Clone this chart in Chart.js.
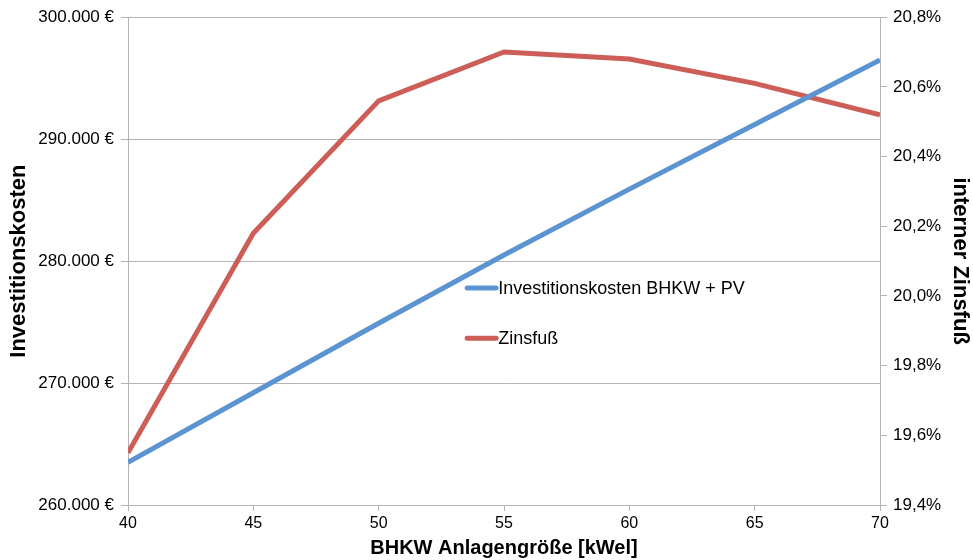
<!DOCTYPE html>
<html>
<head>
<meta charset="utf-8">
<script src="https://cdn.jsdelivr.net/npm/chart.js"></script>
<style>
  html, body { margin: 0; padding: 0; background: #fff; }
  #wrap { width: 973px; height: 560px; }
</style>
</head>
<body>
<div id="wrap"><canvas id="chart"></canvas></div>
<script>
// values
const anlagengroesse = [40, 45, 50, 55, 60, 65, 70];
const investitionskosten = [263500, 269200, 274900, 280500, 285900, 291200, 296500];
const zinsfuss = [19.55, 20.18, 20.56, 20.70, 20.68, 20.61, 20.52];

const BLUE = "#5b94d0";
const RED = "#cd5e57";
const GRID = "#b4b4b4";
const FONT = "'Liberation Sans', Arial, sans-serif";

// legend sits inside the plot, Excel style
const innerLegend = {
  id: "innerLegend",
  afterDatasetsDraw(chart) {
    const { ctx, chartArea } = chart;
    const x = chartArea.left + chartArea.width * 0.451;
    const rows = [chartArea.top + chartArea.height * 0.555, chartArea.top + chartArea.height * 0.658];
    ctx.save();
    ctx.font = "18px " + FONT;
    ctx.textBaseline = "middle";
    chart.data.datasets.forEach((ds, i) => {
      ctx.strokeStyle = ds.borderColor;
      ctx.lineWidth = 5;
      ctx.lineCap = "round";
      ctx.beginPath();
      ctx.moveTo(x, rows[i]);
      ctx.lineTo(x + 29, rows[i]);
      ctx.stroke();
      ctx.fillStyle = "#000";
      ctx.fillText(ds.label, x + 31, rows[i] + 1);
    });
    ctx.restore();
  },
};

new Chart(document.getElementById("chart"), {
  type: "line",
  data: {
    labels: anlagengroesse,
    datasets: [
      {
        label: "Investitionskosten BHKW + PV",
        data: investitionskosten,
        borderColor: BLUE,
        backgroundColor: BLUE,
        borderWidth: 5,
        pointRadius: 0,
        yAxisID: "y",
      },
      {
        label: "Zinsfuß",
        data: zinsfuss,
        borderColor: RED,
        backgroundColor: RED,
        borderWidth: 5,
        pointRadius: 0,
        yAxisID: "y1",
      },
    ],
  },
  options: {
    responsive: true,
    maintainAspectRatio: false,
    animation: false,
    layout: { padding: { top: 17, left: 0, right: 0, bottom: 0 } },
    plugins: {
      legend: { display: false },
      tooltip: { enabled: false },
    },
    scales: {
      x: {
        type: "linear",
        min: 40,
        max: 70,
        ticks: {
          stepSize: 5,
          color: "#000",
          font: { family: FONT, size: 16 },
          padding: 3,
        },
        grid: { drawOnChartArea: false, color: GRID, tickLength: 6 },
        border: { color: GRID },
        title: {
          display: true,
          text: "BHKW Anlagengröße [kWel]",
          color: "#000",
          font: { family: FONT, size: 20, weight: "bold" },
          padding: { top: 0, bottom: 0 },
        },
        afterFit(scale) { scale.height = 55; },
      },
      y: {
        position: "left",
        min: 260000,
        max: 300000,
        ticks: {
          stepSize: 10000,
          color: "#000",
          font: { family: FONT, size: 17 },
          padding: 7,
          callback: (v) => v.toLocaleString("de-DE") + " €",
        },
        grid: { color: GRID, tickLength: 7 },
        border: { color: GRID },
        title: {
          display: true,
          text: "Investitionskosten",
          color: "#000",
          font: { family: FONT, size: 22, weight: "bold" },
          padding: { top: 6, bottom: 0 },
        },
        afterFit(scale) { scale.width = 128; },
      },
      y1: {
        position: "right",
        min: 19.4,
        max: 20.8,
        ticks: {
          stepSize: 0.2,
          color: "#000",
          font: { family: FONT, size: 17 },
          padding: 6,
          callback: (v) => v.toFixed(1).replace(".", ",") + "%",
        },
        grid: { drawOnChartArea: false, color: GRID, tickLength: 7 },
        border: { color: GRID },
        title: {
          display: true,
          text: "interner Zinsfuß",
          color: "#000",
          font: { family: FONT, size: 22, weight: "bold" },
          padding: { top: 0, bottom: 0 },
        },
        afterFit(scale) { scale.width = 93; },
      },
    },
  },
  plugins: [innerLegend],
});
</script>
</body>
</html>
